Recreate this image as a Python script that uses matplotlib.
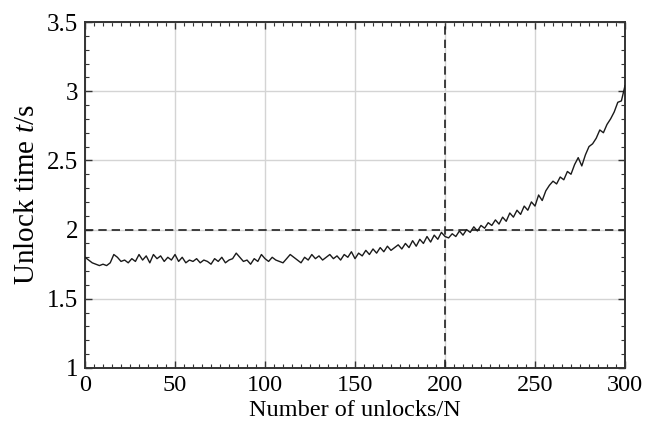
import numpy as np
import matplotlib
matplotlib.use("Agg")
import matplotlib.pyplot as plt
from matplotlib.ticker import MultipleLocator

# Data (every 2 unlocks)
unlocks = list(range(0, 301, 2))
unlock_time = [
    1.80, 1.78, 1.76, 1.75, 1.74, 1.75, 1.74, 1.76, 1.82, 1.80, 1.77,
    1.78, 1.76, 1.79, 1.77, 1.82, 1.78, 1.81, 1.76, 1.82, 1.79,
    1.81, 1.77, 1.80, 1.78, 1.82, 1.77, 1.80, 1.76, 1.78, 1.77,
    1.79, 1.76, 1.78, 1.77, 1.75, 1.79, 1.77, 1.80, 1.76, 1.78,
    1.79, 1.83, 1.80, 1.77, 1.78, 1.75, 1.79, 1.77, 1.82, 1.79,
    1.77, 1.80, 1.78, 1.77, 1.76, 1.79, 1.82, 1.80, 1.78, 1.76,
    1.80, 1.78, 1.82, 1.79, 1.81, 1.78, 1.80, 1.82, 1.79, 1.81,
    1.78, 1.82, 1.80, 1.84, 1.79, 1.83, 1.81, 1.85, 1.82, 1.86,
    1.83, 1.87, 1.84, 1.88, 1.85, 1.87, 1.89, 1.86, 1.90, 1.87,
    1.92, 1.88, 1.93, 1.90, 1.95, 1.91, 1.96, 1.93, 1.98, 1.95,
    1.94, 1.97, 1.95, 1.99, 1.96, 2.00, 1.98, 2.02, 1.99, 2.03,
    2.01, 2.05, 2.03, 2.07, 2.04, 2.09, 2.06, 2.12, 2.09, 2.14,
    2.11, 2.17, 2.14, 2.20, 2.17, 2.25, 2.21, 2.28, 2.32, 2.35,
    2.33, 2.38, 2.36, 2.42, 2.40, 2.47, 2.52, 2.46, 2.54, 2.60,
    2.62, 2.66, 2.72, 2.70, 2.76, 2.80, 2.85, 2.92, 2.93, 3.04,
]
threshold_time = 2.0
threshold_unlocks = 200
x_ticks = [0, 50, 100, 150, 200, 250, 300]
y_ticks = [1, 1.5, 2, 2.5, 3, 3.5]
y_ticklabels = ["1", "1.5", "2", "2.5", "3", "3.5"]

plt.rcParams["font.family"] = ["Liberation Serif", "DejaVu Serif"]
plt.rcParams["mathtext.fontset"] = "custom"
plt.rcParams["mathtext.rm"] = "Liberation Serif"
plt.rcParams["mathtext.it"] = "Liberation Serif:italic"

fig = plt.figure(figsize=(6.55, 4.30), dpi=100)
ax = fig.add_axes([0.1298, 0.1442, 0.8244, 0.8046])

ax.plot(unlocks, unlock_time, color="#1a1a1a", lw=1.0, zorder=3)
ax.axhline(threshold_time, color="#222222", lw=1.2, ls=(0, (5, 3)), zorder=2)
ax.axvline(threshold_unlocks, color="#222222", lw=1.2, ls=(0, (5, 3)), zorder=2)

ax.set_xlim(0, 300)
ax.set_ylim(1, 3.5)
ax.set_xticks(x_ticks)
ax.set_yticks(y_ticks)
ax.set_yticklabels(y_ticklabels)
ax.xaxis.set_minor_locator(MultipleLocator(5))
ax.yaxis.set_minor_locator(MultipleLocator(0.1))
ax.grid(True, which="major", color="#d4d4d4", lw=1.0, zorder=0)
ax.set_axisbelow(True)

ax.tick_params(which="both", direction="in", top=True, right=True,
               color="#333333")
ax.tick_params(axis="x", labelsize=17.5, pad=5)
ax.tick_params(axis="y", labelsize=18, pad=5)
ax.tick_params(which="major", length=5, width=1)
ax.tick_params(which="minor", length=3, width=0.8)
for s in ax.spines.values():
    s.set_linewidth(1.4)
    s.set_color("#333333")

ax.set_xlabel("Number of unlocks/N", fontsize=17.5, labelpad=3)
ax.set_ylabel("Unlock time $t$/s", fontsize=21, labelpad=5)

fig.savefig("out.png", dpi=100)
